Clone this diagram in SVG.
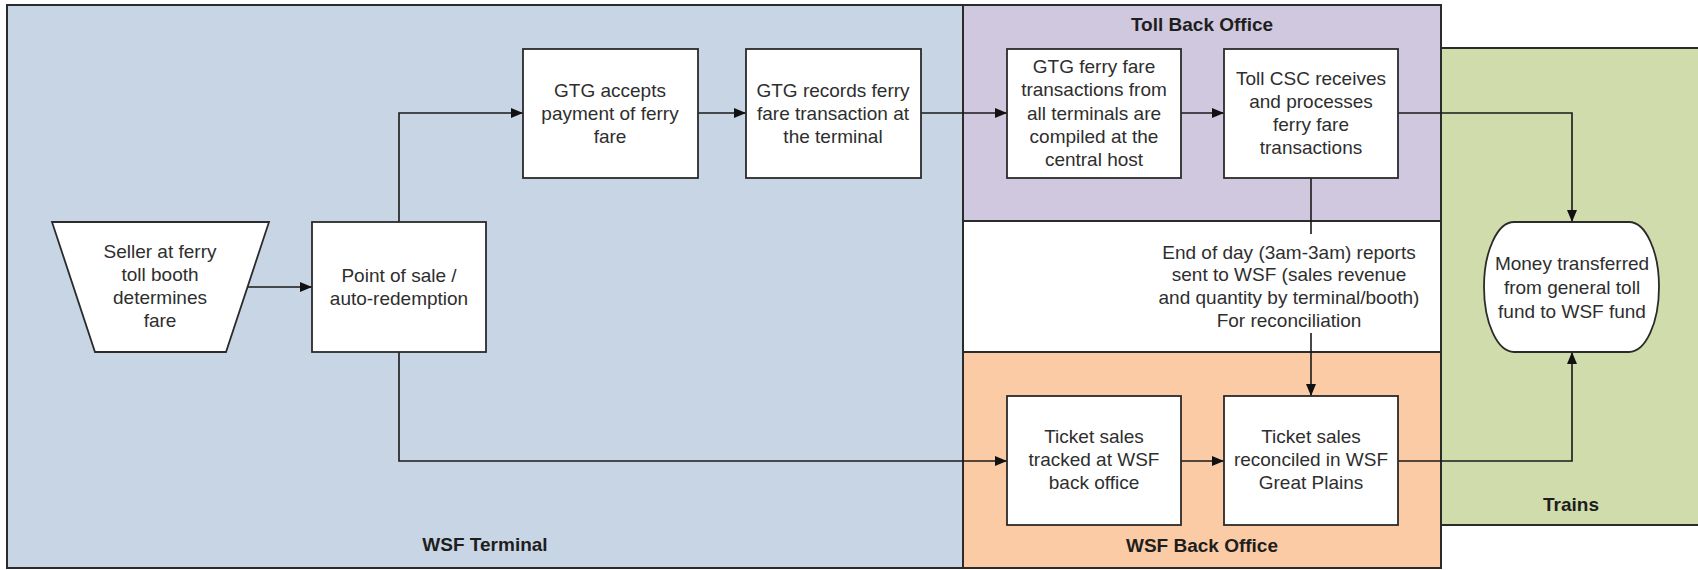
<svg xmlns="http://www.w3.org/2000/svg" width="1698" height="570" viewBox="0 0 1698 570">
<style>
.lane{stroke:#2b2b2b;stroke-width:2}
.node{fill:#ffffff;stroke:#2b2b2b;stroke-width:1.8}
.t{font-family:"Liberation Sans",Arial,sans-serif;font-size:19px;fill:#2e2e2e;text-anchor:middle}
.b{font-family:"Liberation Sans",Arial,sans-serif;font-size:19px;font-weight:bold;fill:#1e1e1e;text-anchor:middle}
.c{fill:none;stroke:#1a1a1a;stroke-width:1.6}
</style>
<defs>
<marker id="ah" markerUnits="userSpaceOnUse" markerWidth="12" markerHeight="10" refX="12" refY="5" orient="auto">
<path d="M0,0 L12,5 L0,10 z" fill="#111"/>
</marker>
</defs>
<g id="lanes">
<rect id="lane-trains" class="lane" x="1441" y="48" width="270" height="477" fill="#d0dcac"/>
<rect id="lane-wsf-terminal" class="lane" x="7" y="5" width="956" height="563" fill="#c8d5e4"/>
<rect id="lane-toll-back-office" class="lane" x="963" y="5" width="478" height="216" fill="#d0c8de"/>
<rect id="lane-middle" class="lane" x="963" y="221" width="478" height="131" fill="#ffffff"/>
<rect id="lane-wsf-back-office" class="lane" x="963" y="352" width="478" height="216" fill="#fbcba6"/>
<text class="b" x="485" y="551">WSF Terminal</text>
<text class="b" x="1202" y="31">Toll Back Office</text>
<text class="b" x="1202" y="552">WSF Back Office</text>
<text class="b" x="1571" y="511">Trains</text>
</g>
<g id="connectors">
<path class="c" d="M248 287 H312" marker-end="url(#ah)"/>
<path class="c" d="M399 222 V113 H523" marker-end="url(#ah)"/>
<path class="c" d="M698 113 H746" marker-end="url(#ah)"/>
<path class="c" d="M921 113 H1007" marker-end="url(#ah)"/>
<path class="c" d="M1181 113 H1224" marker-end="url(#ah)"/>
<path class="c" d="M1398 113 H1572 V222" marker-end="url(#ah)"/>
<path class="c" d="M1311 178 V234"/>
<path class="c" d="M1311 333 V396" marker-end="url(#ah)"/>
<path class="c" d="M399 352 V461 H1007" marker-end="url(#ah)"/>
<path class="c" d="M1181 461 H1224" marker-end="url(#ah)"/>
<path class="c" d="M1398 461 H1572 V352" marker-end="url(#ah)"/>
<g id="label-eod">
<text class="t" x="1289" y="259">End of day (3am-3am) reports</text>
<text class="t" x="1289" y="281">sent to WSF (sales revenue</text>
<text class="t" x="1289" y="304">and quantity by terminal/booth)</text>
<text class="t" x="1289" y="327">For reconciliation</text>
</g>
</g>
<g id="seller">
<polygon class="node" points="52,222 269,222 226,352 95,352"/>
<text class="t" x="160" y="258">Seller at ferry</text>
<text class="t" x="160" y="281">toll booth</text>
<text class="t" x="160" y="304">determines</text>
<text class="t" x="160" y="327">fare</text>
</g>
<g id="pos">
<rect class="node" x="312" y="222" width="174" height="130"/>
<text class="t" x="399" y="282">Point of sale /</text>
<text class="t" x="399" y="305">auto-redemption</text>
</g>
<g id="gtg-accepts">
<rect class="node" x="523" y="49" width="175" height="129"/>
<text class="t" x="610" y="97">GTG accepts</text>
<text class="t" x="610" y="120">payment of ferry</text>
<text class="t" x="610" y="143">fare</text>
</g>
<g id="gtg-records">
<rect class="node" x="746" y="49" width="175" height="129"/>
<text class="t" x="833" y="97">GTG records ferry</text>
<text class="t" x="833" y="120">fare transaction at</text>
<text class="t" x="833" y="143">the terminal</text>
</g>
<g id="gtg-compiled">
<rect class="node" x="1007" y="49" width="174" height="129"/>
<text class="t" x="1094" y="73">GTG ferry fare</text>
<text class="t" x="1094" y="96">transactions from</text>
<text class="t" x="1094" y="120">all terminals are</text>
<text class="t" x="1094" y="143">compiled at the</text>
<text class="t" x="1094" y="166">central host</text>
</g>
<g id="toll-csc">
<rect class="node" x="1224" y="49" width="174" height="129"/>
<text class="t" x="1311" y="85">Toll CSC receives</text>
<text class="t" x="1311" y="108">and processes</text>
<text class="t" x="1311" y="131">ferry fare</text>
<text class="t" x="1311" y="154">transactions</text>
</g>
<g id="ticket-tracked">
<rect class="node" x="1007" y="396" width="174" height="129"/>
<text class="t" x="1094" y="443">Ticket sales</text>
<text class="t" x="1094" y="466">tracked at WSF</text>
<text class="t" x="1094" y="489">back office</text>
</g>
<g id="ticket-reconciled">
<rect class="node" x="1224" y="396" width="174" height="129"/>
<text class="t" x="1311" y="443">Ticket sales</text>
<text class="t" x="1311" y="466">reconciled in WSF</text>
<text class="t" x="1311" y="489">Great Plains</text>
</g>
<g id="money-transferred">
<rect class="node" x="1484" y="222" width="175" height="130" rx="30" ry="65"/>
<text class="t" x="1572" y="270">Money transferred</text>
<text class="t" x="1572" y="294">from general toll</text>
<text class="t" x="1572" y="318">fund to WSF fund</text>
</g>
</svg>
